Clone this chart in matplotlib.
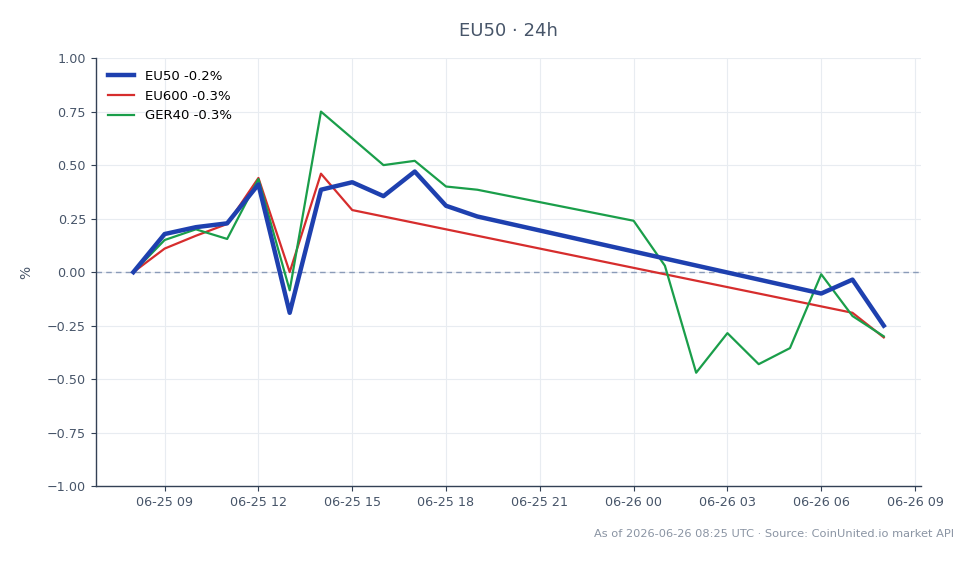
import matplotlib
matplotlib.use("Agg")
import matplotlib.pyplot as plt
import matplotlib.dates as mdates
import pandas as pd

eu50_times = ["2026-06-25 08:00", "2026-06-25 09:00", "2026-06-25 10:00", "2026-06-25 11:00",
              "2026-06-25 12:00", "2026-06-25 13:00", "2026-06-25 14:00", "2026-06-25 15:00",
              "2026-06-25 16:00", "2026-06-25 17:00", "2026-06-25 18:00", "2026-06-25 19:00",
              "2026-06-26 06:00", "2026-06-26 07:00", "2026-06-26 08:00"]
eu50_vals = [0.0, 0.178, 0.21, 0.228, 0.41, -0.19, 0.385, 0.42, 0.355, 0.47, 0.31, 0.26,
             -0.10, -0.035, -0.25]

eu600_times = ["2026-06-25 08:00", "2026-06-25 09:00", "2026-06-25 10:00", "2026-06-25 11:00",
               "2026-06-25 12:00", "2026-06-25 13:00", "2026-06-25 14:00", "2026-06-25 15:00",
               "2026-06-26 07:00", "2026-06-26 08:00"]
eu600_vals = [0.0, 0.11, 0.17, 0.225, 0.44, 0.0, 0.46, 0.29, -0.19, -0.305]

ger40_times = ["2026-06-25 08:00", "2026-06-25 09:00", "2026-06-25 10:00", "2026-06-25 11:00",
               "2026-06-25 12:00", "2026-06-25 13:00", "2026-06-25 14:00", "2026-06-25 15:00",
               "2026-06-25 16:00", "2026-06-25 17:00", "2026-06-25 18:00", "2026-06-25 19:00",
               "2026-06-26 00:00", "2026-06-26 01:00", "2026-06-26 02:00", "2026-06-26 03:00",
               "2026-06-26 04:00", "2026-06-26 05:00", "2026-06-26 06:00", "2026-06-26 07:00",
               "2026-06-26 08:00"]
ger40_vals = [0.0, 0.15, 0.2, 0.155, 0.435, -0.085, 0.75, 0.625, 0.50, 0.52, 0.40, 0.385,
              0.24, 0.03, -0.47, -0.285, -0.43, -0.355, -0.01, -0.205, -0.30]

labels = ["EU50 -0.2%", "EU600 -0.3%", "GER40 -0.3%"]
y_ticks = [-1.0, -0.75, -0.5, -0.25, 0.0, 0.25, 0.5, 0.75, 1.0]
title = "EU50 · 24h"
footer = "As of 2026-06-26 08:25 UTC · Source: CoinUnited.io market API"

text_col = "#475569"
spine_col = "#334155"

fig = plt.figure(figsize=(9.78, 5.64), dpi=100)
ax = fig.add_axes([0.098, 0.138, 0.844, 0.759])

ax.plot(pd.to_datetime(eu50_times), eu50_vals, color="#1e40af", lw=3.2, label=labels[0], zorder=4)
ax.plot(pd.to_datetime(eu600_times), eu600_vals, color="#d62d2d", lw=1.6, label=labels[1], zorder=3)
ax.plot(pd.to_datetime(ger40_times), ger40_vals, color="#1a9e4a", lw=1.6, label=labels[2], zorder=3)
ax.axhline(0, color="#8a9bb8", lw=1.0, ls=(0, (4, 3)), zorder=2)

ax.set_ylim(-1.0, 1.0)
ax.set_yticks(y_ticks)
ax.yaxis.set_major_formatter(matplotlib.ticker.FuncFormatter(
    lambda v, p: f"{v:.2f}".replace("-", "\u2212")))
ax.xaxis.set_major_locator(mdates.HourLocator(byhour=[0, 3, 6, 9, 12, 15, 18, 21]))
ax.xaxis.set_major_formatter(mdates.DateFormatter("%m-%d %H"))

ax.grid(True, color="#e8ecf1", lw=0.8)
ax.set_axisbelow(True)
for s in ["top", "right"]:
    ax.spines[s].set_visible(False)
for s in ["left", "bottom"]:
    ax.spines[s].set_color(spine_col)
    ax.spines[s].set_linewidth(1.0)
ax.tick_params(colors=spine_col, labelcolor=text_col, labelsize=9.2)
ax.set_ylabel("%", color=text_col, fontsize=10, labelpad=10)

leg = ax.legend(loc="upper left", frameon=False, fontsize=9.5)

fig.text(0.52, 0.945, title, ha="center", va="center", color=text_col, fontsize=13)
fig.text(0.976, 0.053, footer, ha="right", va="center", color="#8a94a3", fontsize=8.2)

fig.savefig("out.png", dpi=100)
